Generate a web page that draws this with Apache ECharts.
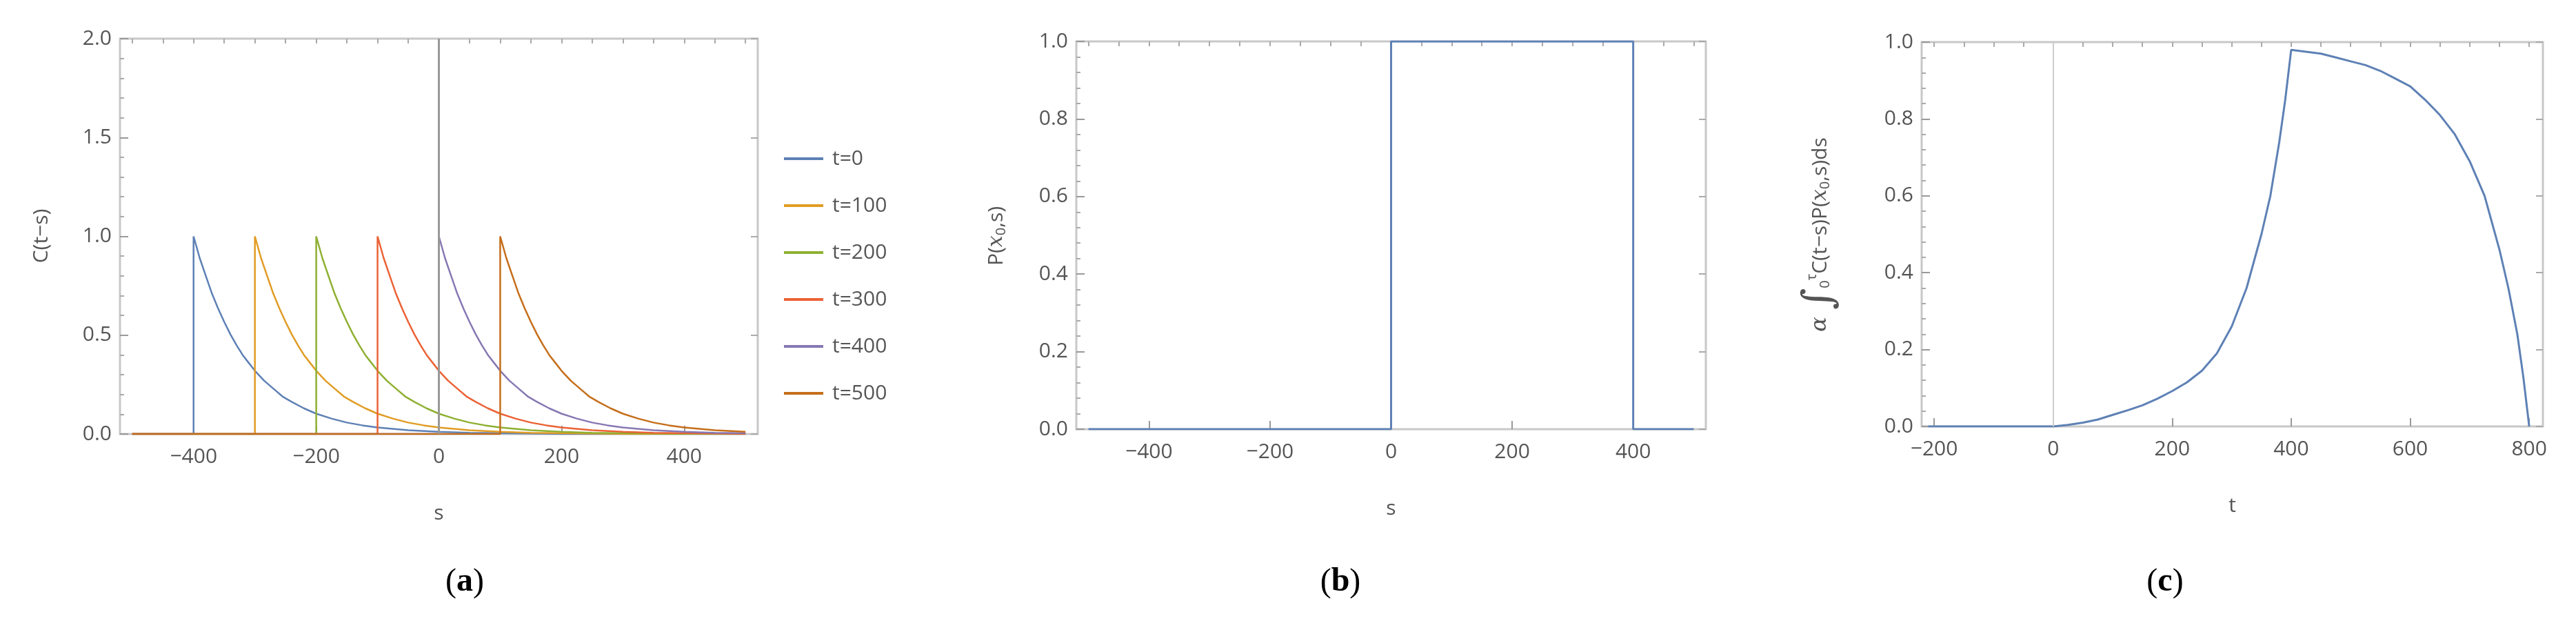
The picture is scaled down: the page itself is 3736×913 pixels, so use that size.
<!DOCTYPE html>
<html><head><meta charset="utf-8">
<script src="https://cdn.jsdelivr.net/npm/echarts@6/dist/echarts.min.js"></script>
<style>html,body{margin:0;background:#fff}#c{width:3736px;height:913px}</style>
</head><body><div id="c"></div>
<script>
// Panel (a): curves C(t-s) for several t, each a step then decay
const tValues = [0, 100, 200, 300, 400, 500];
const seriesNamesA = ['t=0', 't=100', 't=200', 't=300', 't=400', 't=500'];
const onsetS = [-400, -300, -200, -100, 0, 100];
// decay profile: offset from onset, value
const decayOffset = [0, 10, 20, 30, 40, 50, 60, 70, 80, 90, 100, 115, 130, 145, 160, 180, 200, 225, 250, 275, 300, 350, 400, 450, 500, 600, 700, 900];
const decayValue  = [1, 0.89, 0.80, 0.71, 0.635, 0.567, 0.505, 0.45, 0.40, 0.36, 0.32, 0.27, 0.23, 0.19, 0.163, 0.13, 0.103, 0.078, 0.058, 0.044, 0.033, 0.019, 0.011, 0.006, 0.004, 0.001, 0, 0];
// Panel (b)
const pS = [-500, 0, 0, 400, 400, 500];
const pV = [0, 0, 1, 1, 0, 0];
// Panel (c)
const cT = [-210, -100, 0, 25, 50, 75, 100, 125, 150, 175, 200, 225, 250, 275, 300, 325, 350, 365, 380, 390, 400, 425, 450, 475, 500, 525, 550, 575, 600, 625, 650, 675, 700, 725, 750, 765, 780, 790, 800];
const cV = [0, 0, 0, 0.004, 0.01, 0.018, 0.03, 0.042, 0.055, 0.072, 0.092, 0.115, 0.145, 0.19, 0.26, 0.36, 0.5, 0.6, 0.74, 0.85, 0.98, 0.975, 0.97, 0.96, 0.95, 0.94, 0.925, 0.905, 0.885, 0.85, 0.81, 0.76, 0.69, 0.6, 0.46, 0.36, 0.24, 0.13, 0];
const xTicksAB = [-400, -200, 0, 200, 400];
const xTicksC = [-200, 0, 200, 400, 600, 800];

const colors = ['#5E81B5', '#E19C24', '#8FB032', '#EB6235', '#8778B3', '#C56E1A'];
const tickColor = '#555';
const FONT = 'Open Sans';
const minus = v => String(v).replace('-', '\u2212');

function buildCurve(onset) {
  const pts = [[-500, 0], [onset, 0]];
  for (let i = 0; i < decayOffset.length; i++) {
    const s = onset + decayOffset[i];
    if (s > 500) break;
    pts.push([s, decayValue[i]]);
  }
  return pts;
}

const grids = [
  {left: 174, top: 56, width: 925, height: 573},
  {left: 1561, top: 60, width: 913, height: 562},
  {left: 2787, top: 61, width: 901, height: 557}
];
const xRange = [[-520, 520], [-520, 520], [-221, 823]];
const xTicks = [xTicksAB, xTicksAB, xTicksC];
const yMax = [2, 1, 1];
const yInt = [0.5, 0.2, 0.2];
const xNames = ['s', 's', 't'];

const xAxis = [], yAxis = [];
grids.forEach((g, i) => {
  const minorX = [];
  for (let v = Math.ceil(xRange[i][0] / 50) * 50; v <= xRange[i][1]; v += 50) minorX.push(v);
  const base = {
    type: 'value', gridIndex: i, min: xRange[i][0], max: xRange[i][1],
    axisLine: {show: false, onZero: false}, splitLine: {show: false}
  };
  xAxis.push(Object.assign({}, base, {
    position: 'bottom', name: xNames[i], nameLocation: 'middle', nameGap: 100,
    nameTextStyle: {fontSize: 30, color: tickColor, fontFamily: FONT},
    axisTick: {inside: true, length: 12, lineStyle: {color: '#999', width: 2}, customValues: xTicks[i]},
    axisLabel: {customValues: xTicks[i], formatter: minus, fontSize: 30, color: tickColor, fontFamily: FONT, margin: 18}
  }));
  xAxis.push(Object.assign({}, base, {
    position: 'top',
    axisTick: {inside: true, length: 7, lineStyle: {color: '#aaa', width: 2}, customValues: minorX},
    axisLabel: {show: false}
  }));
  const yb = {type: 'value', gridIndex: i, min: 0, max: yMax[i], interval: yInt[i], axisLine: {show: false, onZero: false}, splitLine: {show: false}};
  yAxis.push(Object.assign({}, yb, {
    position: 'left',
    axisTick: {inside: true, length: 12, lineStyle: {color: '#999', width: 2}},
    minorTick: {show: true, splitNumber: 5, length: 6, lineStyle: {color: '#aaa', width: 2}},
    axisLabel: {formatter: v => v.toFixed(1), fontSize: 30, color: tickColor, fontFamily: FONT, margin: 12}
  }));
  yAxis.push(Object.assign({}, yb, {
    position: 'right',
    axisTick: {inside: true, length: 10, lineStyle: {color: '#aaa', width: 2}},
    axisLabel: {show: false}
  }));
});

const series = [];
tValues.forEach((t, i) => {
  series.push({
    name: seriesNamesA[i], type: 'line', xAxisIndex: 0, yAxisIndex: 0, showSymbol: false,
    data: buildCurve(onsetS[i]), lineStyle: {color: colors[i], width: 2.5}, itemStyle: {color: colors[i]},
    z: 3,
    markLine: i === 0 ? {silent: true, symbol: 'none', label: {show: false},
      lineStyle: {color: '#999', width: 3, type: 'solid'}, data: [{xAxis: 0}]} : undefined
  });
});
series.push({type: 'line', xAxisIndex: 2, yAxisIndex: 2, showSymbol: false,
  data: pS.map((s, i) => [s, pV[i]]), lineStyle: {color: colors[0], width: 3}});
series.push({type: 'line', xAxisIndex: 4, yAxisIndex: 4, showSymbol: false,
  data: cT.map((t, i) => [t, cV[i]]), lineStyle: {color: colors[0], width: 3},
  markLine: {silent: true, symbol: 'none', label: {show: false},
    lineStyle: {color: '#ccc', width: 2, type: 'solid'}, data: [{xAxis: 0}]}});

const option = {
  animation: false,
  backgroundColor: '#fff',
  grid: grids.map(g => Object.assign({show: true, borderColor: '#c8c8c8', borderWidth: 3, backgroundColor: 'transparent'}, g)),
  xAxis, yAxis, series,
  legend: {
    data: seriesNamesA, orient: 'vertical', left: 1132, top: 210, itemGap: 38,
    itemWidth: 57, itemHeight: 4, icon: 'rect',
    textStyle: {fontSize: 30, color: tickColor, fontFamily: FONT, padding: [0, 0, 0, 8]}
  },
  graphic: [
    {type: 'text', x: 60, y: 342, rotation: Math.PI / 2, style: {text: 'C(t\u2212s)', fontSize: 30, fill: tickColor, fontFamily: FONT, align: 'center', verticalAlign: 'middle'}},
    {type: 'text', x: 1445, y: 342, rotation: Math.PI / 2, style: {rich: {b: {fontSize: 30, fill: tickColor, fontFamily: FONT}, i: {fontSize: 30, fill: tickColor, fontStyle: 'italic', fontFamily: 'DejaVu Serif'}, sub: {fontSize: 20, fill: tickColor, fontFamily: FONT, padding: [14, 0, 0, 0]}}, text: '{b|P(}{i|x}{sub|0}{b|,s)}', align: 'center', verticalAlign: 'middle'}},
    {type: 'text', x: 2640, y: 340, rotation: Math.PI / 2, style: {rich: {a: {fontSize: 32, fill: tickColor, fontFamily: 'DejaVu Serif', fontStyle: 'italic'}, int: {fontSize: 60, fill: tickColor, fontFamily: 'DejaVu Serif'}, b: {fontSize: 30, fill: tickColor, fontFamily: FONT}, i: {fontSize: 30, fill: tickColor, fontStyle: 'italic', fontFamily: 'DejaVu Serif'}, sub: {fontSize: 20, fill: tickColor, fontFamily: FONT, padding: [14, 0, 0, 0]}, sup: {fontSize: 20, fill: tickColor, fontFamily: FONT, padding: [0, 0, 24, 0]}}, text: '{a|\u03b1 }{int|\u222b}{sub|0}{sup|\u03c4}{b|C(t\u2212s)P(}{i|x}{sub|0}{b|,s)ds}', align: 'center', verticalAlign: 'middle'}},
    {type: 'text', x: 674, y: 844, style: {rich: {p: {fontSize: 48, fontFamily: 'Liberation Serif', fill: '#000'}, l: {fontSize: 48, fontFamily: 'Liberation Serif', fontWeight: 'bold', fill: '#000'}}, text: '{p|(}{l|a}{p|)}', align: 'center', verticalAlign: 'middle'}},
    {type: 'text', x: 1944, y: 844, style: {rich: {p: {fontSize: 48, fontFamily: 'Liberation Serif', fill: '#000'}, l: {fontSize: 48, fontFamily: 'Liberation Serif', fontWeight: 'bold', fill: '#000'}}, text: '{p|(}{l|b}{p|)}', align: 'center', verticalAlign: 'middle'}},
    {type: 'text', x: 3140, y: 844, style: {rich: {p: {fontSize: 48, fontFamily: 'Liberation Serif', fill: '#000'}, l: {fontSize: 48, fontFamily: 'Liberation Serif', fontWeight: 'bold', fill: '#000'}}, text: '{p|(}{l|c}{p|)}', align: 'center', verticalAlign: 'middle'}}
  ]
};
const chart = echarts.init(document.getElementById('c'));
chart.setOption(option);
</script></body></html>
